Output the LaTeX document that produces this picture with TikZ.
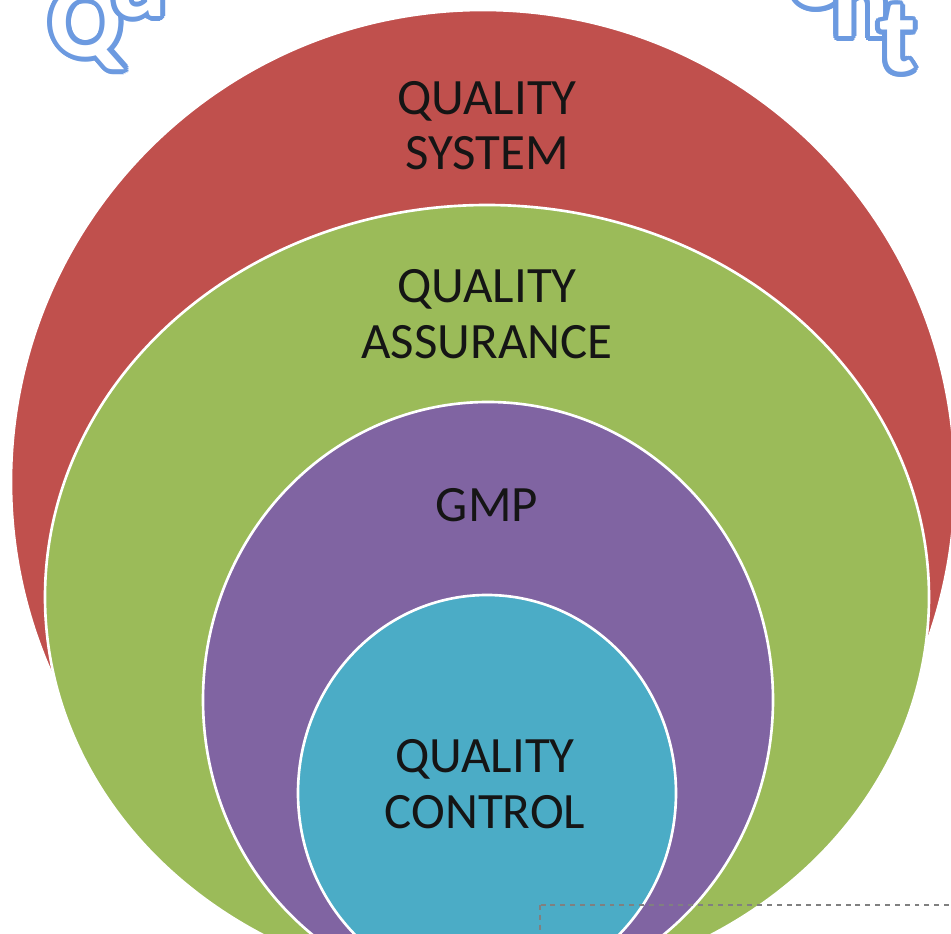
\documentclass[tikz,border=0pt]{standalone}
\usepackage{fontspec}
\usepackage{contour}
\usetikzlibrary{decorations.text}
\setmainfont{Carlito}
\newfontfamily\arcfont{Carlito}
\definecolor{sysred}{HTML}{C0504D}
\definecolor{qagreen}{HTML}{9BBB59}
\definecolor{gmppurple}{HTML}{8064A2}
\definecolor{qcteal}{HTML}{4BACC6}
\definecolor{arcblue}{HTML}{6C9AE0}
\definecolor{ink}{HTML}{151515}
\contourlength{0.045em}
\newcommand{\ring}[4]{\fill[#1, draw=white, line width=1.5pt] (#2) ellipse (#3 and #4)}
\newcommand{\lbl}[3]{\node[lbl] (#1) at (#2) {#3}}
% outlined letter, keeping the plain letter's width
\newcommand{\outl}[1]{\rlap{\contour{arcblue}{#1}}\phantom{#1}}

\begin{document}
\begin{tikzpicture}[x=0.02cm, y=0.02cm,
	lbl/.style={anchor=base, text=ink, inner sep=0pt,
		font=\fontsize{29}{31}\selectfont}]
	\clip (0,0) rectangle (951,934);
	\fill[white] (0,0) rectangle (951,934);
%Rings
	\ring{sysred}{483,452}{472}{472};
	\ring{qagreen}{487,337}{442}{392};
	\ring{gmppurple}{488,234}{285}{298};
	\ring{qcteal}{487,141}{189}{198};
%Labels
	\lbl{sys1}{487,819}{QUALITY};
	\lbl{sys2}{487,764}{SYSTEM};
	\lbl{qa1}{487,631}{QUALITY};
	\lbl{qa2}{487,575}{ASSURANCE};
	\lbl{gmp}{487,412}{GMP};
	\lbl{qc1}{485,161}{QUALITY};
	\lbl{qc2}{485,105}{CONTROL};
%Arched title
	\path[decorate, decoration={text effects along path,
		text={Quality Management}, text align=fit to path,
		text effects/.cd,
		every character/.style={text=white, inner sep=0pt,
			font=\arcfont\bfseries\fontsize{60}{60}\selectfont},
		character command=\outl}]
		(485,389) ++(131:651) arc (131:47:651);
%Dashed box
	\draw[gray, line width=1.1pt, dash pattern=on 2.8pt off 2.8pt]
		(540,29) rectangle (1000,-50);
\end{tikzpicture}
\end{document}
